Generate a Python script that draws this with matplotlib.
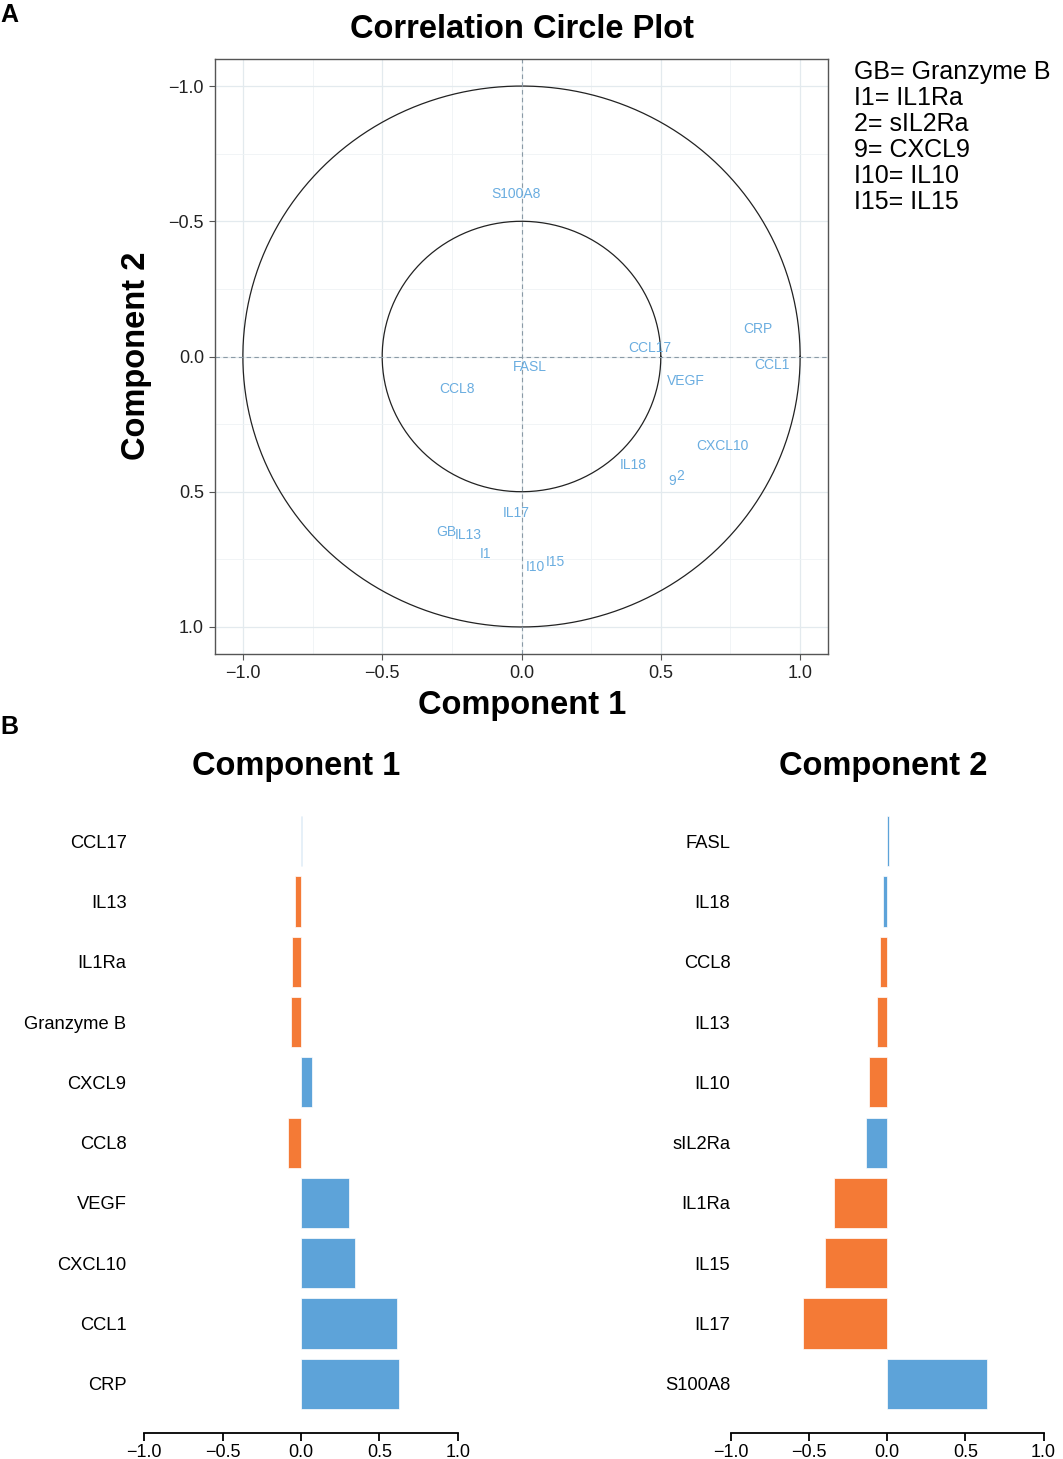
import numpy as np
import matplotlib
matplotlib.use("Agg")
import matplotlib.pyplot as plt
from matplotlib.ticker import MultipleLocator

plt.rcParams['font.family'] = ['Liberation Sans', 'DejaVu Sans']

# correlation circle: variable labels and their coordinates
circle_labels = ["S100A8", "CRP", "CCL17", "CCL1", "FASL", "VEGF", "CCL8",
                 "CXCL10", "IL18", "9", "2", "IL17", "GB", "IL13", "I1",
                 "I10", "I15"]
circle_x = [-0.02, 0.85, 0.46, 0.90, 0.03, 0.59, -0.23,
            0.72, 0.40, 0.54, 0.57, -0.02, -0.27, -0.19, -0.13,
            0.05, 0.12]
circle_y = [-0.60, -0.10, -0.03, 0.03, 0.04, 0.09, 0.12,
            0.33, 0.40, 0.46, 0.44, 0.58, 0.65, 0.66, 0.73,
            0.78, 0.76]

legend_lines = ["GB= Granzyme B", "I1= IL1Ra", "2= sIL2Ra", "9= CXCL9",
                "I10= IL10", "I15= IL15"]

# loadings, top to bottom
comp1_names = ["CCL17", "IL13", "IL1Ra", "Granzyme B", "CXCL9", "CCL8",
               "VEGF", "CXCL10", "CCL1", "CRP"]
comp1_vals = [0.004, -0.038, -0.055, -0.062, 0.07, -0.08,
              0.304, 0.345, 0.615, 0.628]
comp1_grp = ["b", "o", "o", "o", "b", "o", "b", "b", "b", "b"]

comp2_names = ["FASL", "IL18", "CCL8", "IL13", "IL10", "sIL2Ra", "IL1Ra",
               "IL15", "IL17", "S100A8"]
comp2_vals = [0.008, -0.026, -0.045, -0.064, -0.119, -0.136, -0.339,
              -0.40, -0.537, 0.636]
comp2_grp = ["b", "b", "o", "o", "o", "b", "o", "o", "o", "b"]

colors = {"b": "#5DA3D9", "o": "#F47A36"}

W, H = 1063, 1459
fig = plt.figure(figsize=(W / 100, H / 100), dpi=100)


def box(l, t, r, b):
    return [l / W, 1 - b / H, (r - l) / W, (b - t) / H]


def fmt(v, p):
    return f"{v:.1f}".replace("-", "\u2212")


# ---- panel A ----
ax = fig.add_axes(box(215, 59, 828, 654))
ax.set_xlim(-1.1, 1.1)
ax.set_ylim(1.1, -1.1)
ax.xaxis.set_major_locator(MultipleLocator(0.5))
ax.yaxis.set_major_locator(MultipleLocator(0.5))
ax.xaxis.set_minor_locator(MultipleLocator(0.25))
ax.yaxis.set_minor_locator(MultipleLocator(0.25))
ax.grid(which="major", color="#E3EAEE", lw=0.9)
ax.grid(which="minor", color="#EFF3F5", lw=0.6)
ax.set_axisbelow(True)
for s in ax.spines.values():
    s.set_color("#555555")
    s.set_linewidth(1.0)
ax.tick_params(which="major", length=4, color="#555555", labelsize=13,
               labelcolor="#222222", pad=4)
ax.tick_params(which="minor", length=0)
ax.xaxis.set_major_formatter(fmt)
ax.yaxis.set_major_formatter(fmt)

t = np.linspace(0, 2 * np.pi, 400)
for r in (1.0, 0.5):
    ax.plot(r * np.cos(t), r * np.sin(t), color="#222222", lw=0.9)
ax.axhline(0, color="#8A9AA6", lw=0.8, ls=(0, (4, 3)))
ax.axvline(0, color="#8A9AA6", lw=0.8, ls=(0, (4, 3)))

for lab, x, y in zip(circle_labels, circle_x, circle_y):
    ax.text(x, y, lab, ha="center", va="center", color="#6AADE0",
            fontsize=10)

fig.text(522 / W, 1 - 30 / H, "Correlation Circle Plot", ha="center",
         va="center", fontsize=23.5, fontweight="bold")
fig.text(522 / W, 1 - 705 / H, "Component 1", ha="center", va="center",
         fontsize=23.5, fontweight="bold")
fig.text(137 / W, 1 - 356 / H, "Component 2", ha="center", va="center",
         fontsize=23.5, fontweight="bold", rotation=90)

for i, line in enumerate(legend_lines):
    fig.text(854 / W, 1 - (72 + 26 * i) / H, line, ha="left", va="center",
             fontsize=18)

fig.text(0 / W, 1 - 15 / H, "A", ha="left", va="center", fontsize=18,
         fontweight="bold")
fig.text(0 / W, 1 - 727 / H, "B", ha="left", va="center", fontsize=18,
         fontweight="bold")


# ---- panel B ----
def loading_plot(rect, names, vals, grp, title, title_x, label_right):
    a = fig.add_axes(rect)
    n = len(names)
    pos = 0.7 + 1.2 * np.arange(n)
    a.barh(pos, vals[::-1], height=1.0,
           color=[colors[g] for g in grp[::-1]], edgecolor="white", lw=0.5)
    a.set_ylim(0.2 - 0.472, 12.0 + 0.472)
    a.set_xlim(-1.08, 1.08)
    a.set_yticks(pos)
    a.set_yticklabels(names[::-1], fontsize=13.2)
    x0 = rect[0] * W
    a.tick_params(axis="y", length=0, pad=x0 - label_right)
    a.set_xticks([-1.0, -0.5, 0.0, 0.5, 1.0])
    a.set_xticklabels(["\u22121.0", "\u22120.5", "0.0", "0.5", "1.0"],
                      fontsize=13)
    a.tick_params(axis="x", length=6, width=1.3, pad=2)
    for k in ("top", "right", "left"):
        a.spines[k].set_visible(False)
    a.spines["bottom"].set_bounds(-1, 1)
    a.spines["bottom"].set_linewidth(1.3)
    fig.text(title_x / W, 1 - 766 / H, title, ha="center", va="center",
             fontsize=23.5, fontweight="bold")
    return a


ax1 = loading_plot(box(131.8, 792.3, 470.2, 1432.7), comp1_names,
                   comp1_vals, comp1_grp, "Component 1", 296, 128)
ax2 = loading_plot(box(718.5, 792.3, 1056, 1432.7), comp2_names,
                   comp2_vals, comp2_grp, "Component 2", 883, 727)

fig.savefig("out.png", dpi=100)
